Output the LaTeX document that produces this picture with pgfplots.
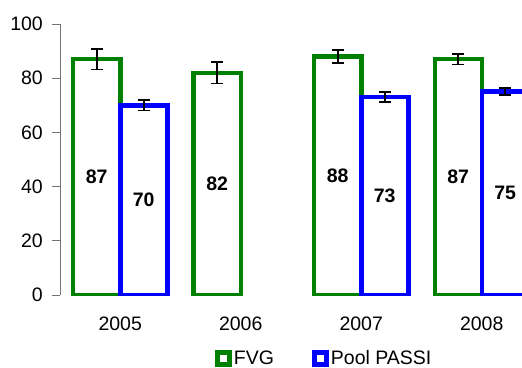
\documentclass[border=0pt]{standalone}
\usepackage{pgfplots}
\pgfplotsset{compat=1.18}
\usepackage{pgfplotstable}
\usepackage{fontspec}
\setmainfont{Liberation Sans}
\definecolor{xlgreen}{HTML}{008000}
\definecolor{xlblue}{HTML}{0000FF}
\pgfplotstableread{
x y err
0 87 3.8
1 82 4.0
2 88 2.5
3 87 1.9
}\fvg
\pgfplotstableread{
x y err
0 70 1.9
2 73 1.8
3 75 1.3
}\pool
\begin{document}
\fontsize{19.5}{23}\selectfont
\begin{tikzpicture}
\path[use as bounding box, clip] (0,0) rectangle (522pt,367pt);
\begin{axis}[
  at={(60pt,72pt)}, anchor=south west,
  scale only axis, width=482pt, height=271pt,
  xmin=-0.5, xmax=3.5, ymin=0, ymax=100,
  axis y line*=left, axis x line*=bottom,
  x axis line style={draw=none},
  y axis line style={draw=black!55, line width=0.8pt},
  xtick={0,1,2,3}, xticklabels={2005,2006,2007,2008},
  xtick style={draw=none},
  ytick={0,20,40,60,80,100},
  ytick style={draw=black!55, line width=0.8pt},
  tick align=outside, major tick length=8pt,
  /pgf/number format/assume math mode=true,
  tick label style={font=\fontsize{19.5}{23}\selectfont},
  xticklabel style={inner sep=0pt, yshift=-14pt},
  yticklabel style={inner sep=0pt, xshift=-9pt},
  legend columns=2,
  legend style={draw=none, fill=none, at={(0.548,-0.235)}, anchor=center,
    font=\fontsize{19.5}{23}\selectfont, nodes={inner xsep=2pt, inner ysep=1pt},
    /tikz/every even column/.append style={column sep=36pt}},
  legend image code/.code={\draw[#1, line width=5pt, fill=white] (0pt,-6pt) rectangle (12pt,6pt);},
]
\addplot[ybar, bar width=47pt, bar shift=-23.5pt, draw=xlgreen, fill=white, line width=4.5pt]
  table[x=x, y=y] {\fvg};
\addlegendentry{FVG}
\addplot[ybar, bar width=47pt, bar shift=23.5pt, draw=xlblue, fill=white, line width=4.5pt]
  table[x=x, y=y] {\pool};
\addlegendentry{Pool PASSI}
% error bars at bar centres
\addplot[draw=none, mark=none, forget plot,
  error bars/.cd, y dir=both, y explicit,
  error bar style={black, line width=1.7pt},
  error mark options={black, line width=1.7pt, mark size=6pt, rotate=90}]
  table[x expr=\thisrow{x}-0.19502, y=y, y error=err] {\fvg};
\addplot[draw=none, mark=none, forget plot,
  error bars/.cd, y dir=both, y explicit,
  error bar style={black, line width=1.7pt},
  error mark options={black, line width=1.7pt, mark size=6pt, rotate=90}]
  table[x expr=\thisrow{x}+0.19502, y=y, y error=err] {\pool};
% value labels
\addplot[draw=none, mark=none, forget plot, nodes near coords, point meta=explicit,
  every node near coord/.style={anchor=center, font=\fontsize{19.5}{23}\selectfont\bfseries}]
  table[x expr=\thisrow{x}-0.19502, y expr=\thisrow{y}/2, meta=y] {\fvg};
\addplot[draw=none, mark=none, forget plot, nodes near coords, point meta=explicit,
  every node near coord/.style={anchor=center, font=\fontsize{19.5}{23}\selectfont\bfseries}]
  table[x expr=\thisrow{x}+0.19502, y expr=\thisrow{y}/2, meta=y] {\pool};
\end{axis}
\end{tikzpicture}
\end{document}
